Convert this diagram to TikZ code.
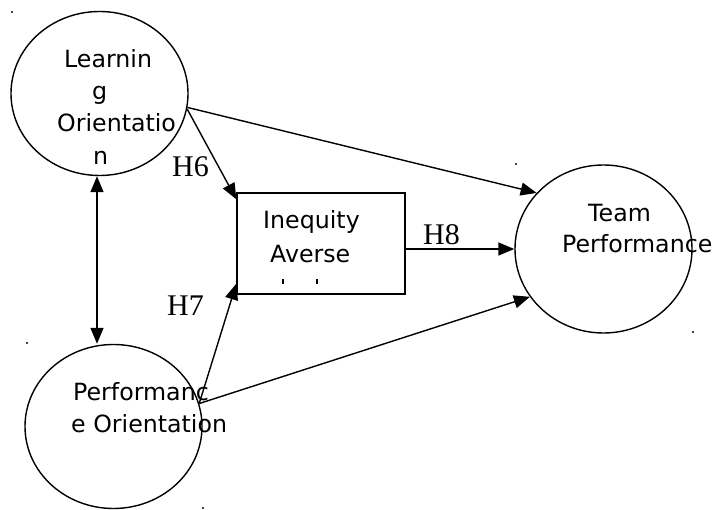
\documentclass[tikz,border=0pt]{standalone}
\usepackage{fontspec}
\setmainfont{DejaVu Sans}
\newfontfamily\hfont{Liberation Serif}
\usetikzlibrary{shapes.geometric,arrows.meta}
\begin{document}
\begin{tikzpicture}[x=1pt,y=-1pt,
  circ/.style={ellipse,draw,line width=1.4pt,minimum width=177pt,minimum height=164pt,inner sep=0pt},
  boxnode/.style={rectangle,draw,line width=1.3pt,minimum width=168pt,minimum height=101pt,inner sep=0pt},
  txt/.style={anchor=base west,inner sep=0pt,font=\fontsize{23.7}{28}\selectfont},
  hlab/.style={anchor=base west,inner sep=0pt,font=\hfont\fontsize{30}{32}\selectfont},
  arr/.style={line width=1.4pt,-{Triangle[length=16pt,width=13pt]}},
  dbl/.style={line width=1.4pt,{Triangle[length=16pt,width=13pt]}-{Triangle[length=16pt,width=13pt]}},
  dot/.style={fill=black,inner sep=0pt,minimum size=2.2pt,circle}]
\useasboundingbox (0,0) rectangle (712,510);
% shapes
\node[circ] (LO) at (99.5,93.5) {};
\node[circ] (PO) at (113.5,426.5) {};
\node[circ,minimum height=168pt] (TP) at (603.5,249) {};
\node[boxnode] (B) at (321,243.5) {};
% texts
\node[txt] (lo1) at (64,68) {Learnin};
\node[txt] (lo2) at (92,100) {g};
\node[txt] (lo3) at (57,132) {Orientatio};
\node[txt] (lo4) at (93,165) {n};
\node[txt] (po1) at (73,400) {Performanc};
\node[txt] (po2) at (71,432) {e Orientation};
\node[txt] (tp1) at (588,222) {Team};
\node[txt] (tp2) at (562,253) {Performance};
\node[txt] (b1) at (263,229) {Inequity};
\node[txt] (b2) at (270,263) {Averse};
\node[fill=black,inner sep=0pt,minimum width=2pt,minimum height=5pt] (t1) at (283,281.5) {};
\node[fill=black,inner sep=0pt,minimum width=2pt,minimum height=5pt] (t2) at (317,281.5) {};
% hypothesis labels
\node[hlab] (h6) at (172,177) {H6};
\node[hlab] (h7) at (167,316) {H7};
\node[hlab] (h8) at (423,245) {H8};
% stray dots
\node[dot] (d1) at (12,12) {};
\node[dot] (d2) at (516,164) {};
\node[dot] (d3) at (27,343) {};
\node[dot] (d4) at (203,508) {};
\node[dot] (d5) at (693,332) {};
% connectors
\draw[arr] (LO.-9) -- (TP.140);
\draw[arr] (LO.-10) -- ([yshift=-7pt]B.north west);
\draw[arr] (PO.15) -- ([yshift=11pt]B.south west);
\draw[arr] (PO.15) -- (TP.-147);
\draw[arr] (TP.west -| B.east) -- (TP.west);
\draw[dbl] ([xshift=-2.5pt]LO.south) -- ([xshift=-2.5pt]LO.south |- PO.north);
\end{tikzpicture}
\end{document}
